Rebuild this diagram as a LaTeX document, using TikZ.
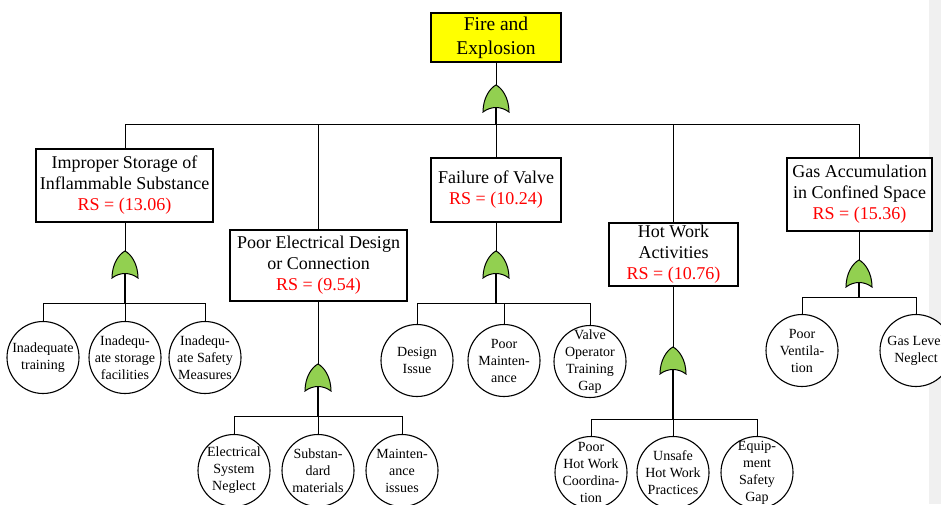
\documentclass[tikz,border=0pt]{standalone}
\usepackage{fontspec}
\setmainfont{Liberation Serif}
\usetikzlibrary{backgrounds}
\definecolor{gatecol}{RGB}{146,208,80}
\definecolor{topcol}{RGB}{255,255,0}
\definecolor{rscol}{RGB}{255,0,0}
\definecolor{sidebar}{RGB}{240,240,240}
\tikzset{
  link/.style={draw=black, line width=1pt},
  feed/.style={draw=black, line width=1.4pt},
  box/.style={draw=black, line width=1.1pt, fill=white, inner sep=0pt, align=center,
    font=\fontsize{18}{21}\selectfont},
  topbox/.style={box, fill=topcol, font=\fontsize{19.5}{24}\selectfont},
  evt/.style={draw=black, line width=1.1pt, fill=white, circle, inner sep=0pt, minimum size=72pt},
  evtext/.style={inner sep=0pt, align=center, font=\fontsize{14}{17}\selectfont},
  orgate/.pic={
    \draw[fill=gatecol, line width=1pt]
      (-13,0) .. controls (-13,-14) and (-6,-24) .. (0,-27)
      .. controls (6,-24) and (13,-14) .. (13,0)
      .. controls (5,-6) and (-5,-6) .. (-13,0) -- cycle;
    \coordinate (-tip) at (0,-27);
    \coordinate (-in) at (0,-4.5);
  }
}
\newcommand{\rs}[1]{\textcolor{rscol}{RS = (#1)}}
\begin{document}
\begin{tikzpicture}[x=1pt, y=-1pt]
\useasboundingbox (0,0) rectangle (941,504);
\clip (0,0) rectangle (941,504);

% junction points of the bus lines
\coordinate (bus) at (496,124);
\coordinate (bar1) at (125,303);
\coordinate (bar2) at (318,416);
\coordinate (bar3) at (496,303);
\coordinate (bar4) at (673,419);
\coordinate (bar5) at (859,297);

% top event and intermediate events
\node[topbox, minimum width=130pt, minimum height=49pt] (b0) at (496,37.5) {Fire and\\Explosion};
\node[box, minimum width=177pt, minimum height=73pt] (b1) at (124.5,185.5)
  {Improper Storage of\\Inflammable Substance\\\rs{13.06}};
\node[box, minimum width=177pt, minimum height=71pt] (b2) at (318.5,265.5)
  {Poor Electrical Design\\or Connection\\\rs{9.54}};
\node[box, minimum width=130pt, minimum height=64pt] (b3) at (496,190)
  {Failure of Valve\\\rs{10.24}};
\node[box, minimum width=129pt, minimum height=63pt] (b4) at (673.5,254.5)
  {Hot Work\\Activities\\\rs{10.76}};
\node[box, minimum width=145pt, minimum height=73pt] (b5) at (859.5,194.5)
  {Gas Accumulation\\in Confined Space\\\rs{15.36}};

% basic events
\node[evt, label={[evtext]center:Inadequate\\training}] (e11) at (43,357.5) {};
\node[evt, label={[evtext]center:Inadequ-\\ate storage\\facilities}] (e12) at (125,357.5) {};
\node[evt, label={[evtext]center:Inadequ-\\ate Safety\\Measures}] (e13) at (205,357.5) {};

\node[evt, label={[evtext]center:Electrical\\System\\Neglect}] (e21) at (234,470.5) {};
\node[evt, label={[evtext]center:Substan-\\dard\\materials}] (e22) at (318,470.5) {};
\node[evt, label={[evtext]center:Mainten-\\ance\\issues}] (e23) at (402,470.5) {};

\node[evt, label={[evtext]center:Design\\Issue}] (e31) at (417,360.5) {};
\node[evt, label={[evtext]center:Poor\\Mainten-\\ance}] (e32) at (504,360.5) {};
\node[evt, label={[evtext]center:Valve\\Operator\\Training\\Gap}] (e33) at (590,361.5) {};

\node[evt, label={[evtext]center:Poor\\Hot Work\\Coordina-\\tion}] (e41) at (591,472.5) {};
\node[evt, label={[evtext]center:Unsafe\\Hot Work\\Practices}] (e42) at (673,472.5) {};
\node[evt, label={[evtext]center:Equip-\\ment\\Safety\\Gap}] (e43) at (757,472.5) {};

\node[evt, label={[evtext]center:Poor\\Ventila-\\tion}] (e51) at (802,350.5) {};
\node[evt, label={[evtext]center:Gas Level\\Neglect}] (e52) at (916,350.5) {};

% OR gates
\pic (g0) at (496,112) {orgate};
\pic (g1) at (125,278) {orgate};
\pic (g2) at (318,391) {orgate};
\pic (g3) at (496,278) {orgate};
\pic (g4) at (673,374) {orgate};
\pic (g5) at (859,287) {orgate};

% connectors, kept behind boxes, circles and gates
\begin{scope}[on background layer]
  \fill[sidebar] (929,0) rectangle (941,504);
  % top gate and main bus
  \draw[link] (b0.south) -- (g0-tip);
  \draw[feed] (g0-in) -- (bus);
  \draw[link] (b1.north -| bar1) -- (bar1 |- bus) -- (b5.north |- bus) -- (b5.north);
  \draw[link] (b2.north) -- (b2.north |- bus);
  \draw[link] (b3.north) -- (bus);
  \draw[link] (b4.north) -- (b4.north |- bus);
  % branch 1
  \draw[link] (b1.south -| bar1) -- (g1-tip);
  \draw[feed] (g1-in) -- (bar1);
  \draw[link] (e11.north) -- (e11.north |- bar1) -- (e13.north |- bar1) -- (e13.north);
  \draw[link] (e12.north) -- (bar1);
  % branch 2
  \draw[link] (b2.south -| bar2) -- (g2-tip);
  \draw[feed] (g2-in) -- (bar2);
  \draw[link] (e21.north) -- (e21.north |- bar2) -- (e23.north |- bar2) -- (e23.north);
  \draw[link] (e22.north) -- (bar2);
  % branch 3
  \draw[link] (b3.south) -- (g3-tip);
  \draw[feed] (g3-in) -- (bar3);
  \draw[link] (e31.north) -- (e31.north |- bar3) -- (e33.north |- bar3) -- (e33.north);
  \draw[link] (e32.north) -- (e32.north |- bar3);
  % branch 4
  \draw[link] (b4.south -| bar4) -- (g4-tip);
  \draw[feed] (g4-in) -- (bar4);
  \draw[link] (e41.north) -- (e41.north |- bar4) -- (e43.north |- bar4) -- (e43.north);
  \draw[link] (e42.north) -- (bar4);
  % branch 5
  \draw[link] (b5.south -| bar5) -- (g5-tip);
  \draw[feed] (g5-in) -- (bar5);
  \draw[link] (e51.north) -- (e51.north |- bar5) -- (e52.north |- bar5) -- (e52.north);
\end{scope}
\end{tikzpicture}
\end{document}
